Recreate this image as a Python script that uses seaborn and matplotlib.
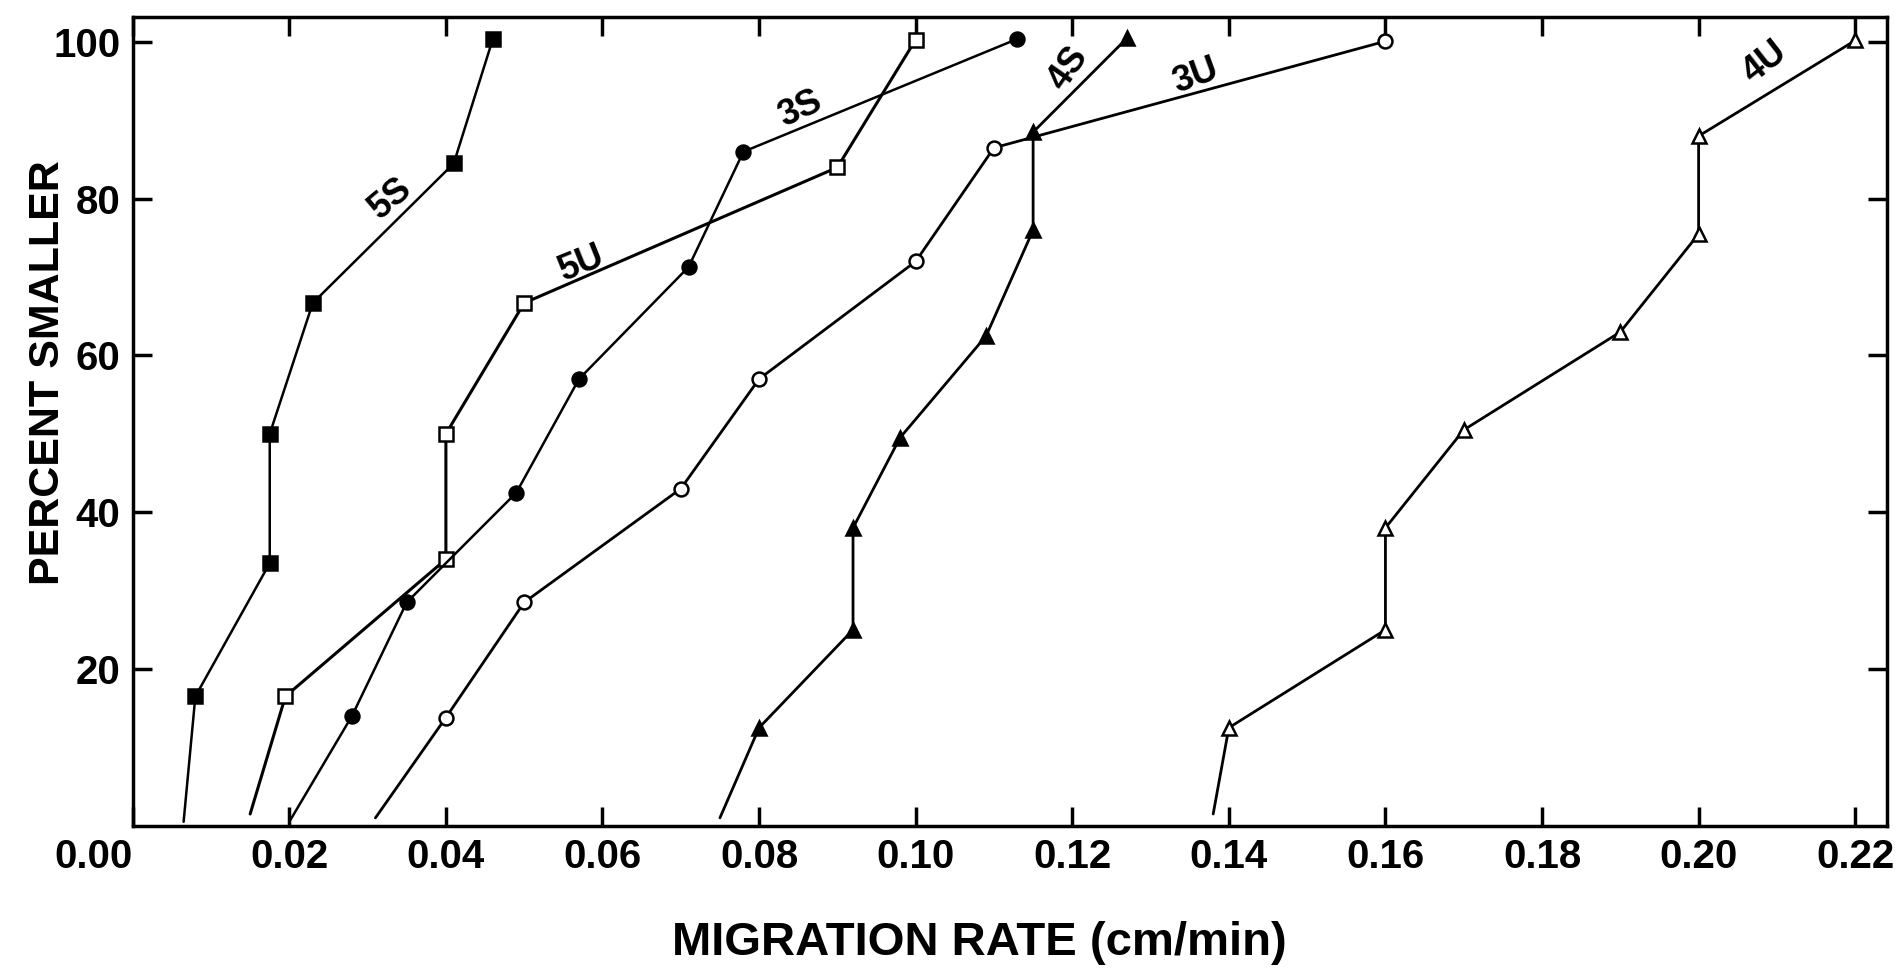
import matplotlib
matplotlib.use("Agg")
import matplotlib.pyplot as plt
import seaborn as sns
import numpy as np

sns.set_theme(style="white")
plt.rcParams['font.family'] = ['Liberation Sans Narrow', 'Liberation Sans', 'DejaVu Sans']
plt.rcParams['font.weight'] = 'bold'

# ---- data (migration rate cm/min, percent smaller) ----
s5_x = [0.0065, 0.008, 0.0175, 0.0175, 0.023, 0.041, 0.046]
s5_y = [0.5, 16.5, 33.5, 50.0, 66.7, 84.5, 100.4]

u5_x = [0.015, 0.0195, 0.040, 0.040, 0.050, 0.090, 0.100]
u5_y = [1.5, 16.5, 34.0, 50.0, 66.7, 84.0, 100.3]

s3_x = [0.020, 0.028, 0.035, 0.049, 0.057, 0.071, 0.078, 0.113]
s3_y = [0.5, 14.0, 28.5, 42.5, 57.0, 71.3, 86.0, 100.4]

u3_x = [0.031, 0.040, 0.050, 0.070, 0.080, 0.100, 0.110, 0.160]
u3_y = [1.0, 13.8, 28.5, 43.0, 57.0, 72.0, 86.5, 100.1]

s4_x = [0.075, 0.080, 0.092, 0.092, 0.098, 0.109, 0.115, 0.115, 0.127]
s4_y = [1.0, 12.5, 25.0, 38.0, 49.5, 62.5, 76.0, 88.5, 100.5]

u4_x = [0.138, 0.140, 0.160, 0.160, 0.170, 0.190, 0.200, 0.200, 0.220]
u4_y = [1.5, 12.5, 25.0, 38.0, 50.5, 63.0, 75.5, 88.0, 100.2]

series_names = ["5S", "5U", "3S", "3U", "4S", "4U"]
label_x = [0.0329, 0.0573, 0.0852, 0.1358, 0.1195, 0.2085]
label_y = [80.0, 71.7, 91.5, 95.7, 96.6, 97.4]
label_rot = [40, 22, 25, 20, 55, 38]

x_ticks = [0.00, 0.02, 0.04, 0.06, 0.08, 0.10, 0.12, 0.14, 0.16, 0.18, 0.20, 0.22]
y_ticks = [20, 40, 60, 80, 100]

fig = plt.figure(figsize=(18.96, 9.68), dpi=100)
ax = fig.add_axes([0.070, 0.147, 0.925, 0.8355])

styles = [
    (s5_x, s5_y, 's', 'black', 1.8),
    (u5_x, u5_y, 's', 'white', 2.2),
    (s3_x, s3_y, 'o', 'black', 1.8),
    (u3_x, u3_y, 'o', 'white', 2.0),
    (s4_x, s4_y, '^', 'black', 2.0),
    (u4_x, u4_y, '^', 'white', 2.0),
]
for xs, ys, mk, fc, lw in styles:
    sns.lineplot(x=xs, y=ys, sort=False, estimator=None, ax=ax,
                 color='black', linewidth=lw, marker=mk,
                 markersize=10,
                 markerfacecolor=fc, markeredgecolor='black',
                 markeredgewidth=1.8, markevery=list(range(1, len(xs))),
                 legend=False)

for name, lx, ly, rot in zip(series_names, label_x, label_y, label_rot):
    ax.text(lx, ly, name, rotation=rot, ha='center', va='center',
            fontsize=26, fontweight='bold', color='black')

ax.set_xlim(0, 0.224)
ax.set_ylim(0, 103.2)
ax.set_xticks(x_ticks)
ax.set_xticklabels([f"{v:.2f}" for v in x_ticks])
ax.set_yticks(y_ticks)
ax.set_yticklabels([str(v) for v in y_ticks])
ax.tick_params(axis='both', which='major', direction='in', length=14, width=2.5,
               top=True, right=True, bottom=True, left=True,
               labelsize=29, colors='black', pad=9)
ax.get_xticklabels()[0].set_ha('right')
for lab in ax.get_xticklabels() + ax.get_yticklabels():
    lab.set_fontweight('bold')

for sp in ax.spines.values():
    sp.set_visible(True)
    sp.set_color('black')
    sp.set_linewidth(2.5)

ax.set_xlabel("MIGRATION RATE (cm/min)", fontsize=34, fontweight='bold', color='black')
ax.set_ylabel("PERCENT SMALLER", fontsize=31, fontweight='bold', color='black')
ax.xaxis.set_label_coords(0.483, -0.118)
ax.yaxis.set_label_coords(-0.037, 0.56)
ax.grid(False)

fig.savefig("out.png", dpi=100, facecolor='white')
